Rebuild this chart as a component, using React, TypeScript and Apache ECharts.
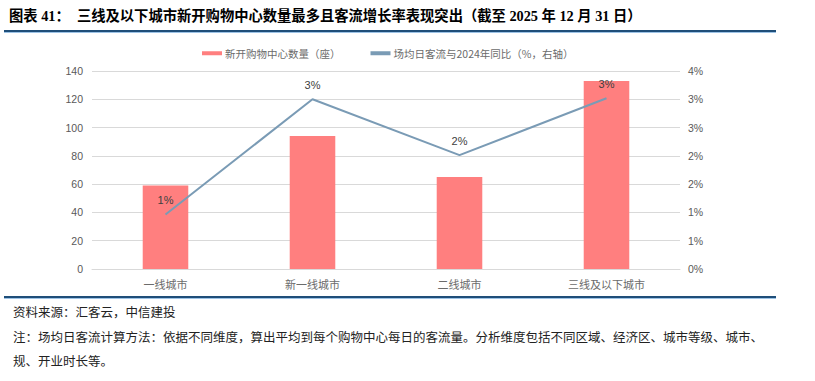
import React, { useEffect, useRef } from "react";
import * as echarts from "echarts";

const categories = ["一线城市", "新一线城市", "二线城市", "三线及以下城市"];
const newMalls = [59, 94, 65, 133];
const flowGrowthPct = [1.1, 3.43, 2.3, 3.45];
const barName = "新开购物中心数量（座）";
const lineName = "场均日客流与2024年同比（%，右轴）";
const titleText = "图表 41：  三线及以下城市新开购物中心数量最多且客流增长率表现突出（截至 2025 年 12 月 31 日）";
const sourceText = "资料来源：汇客云，中信建投";
const noteLine1 = "注：场均日客流计算方法：依据不同维度，算出平均到每个购物中心每日的客流量。分析维度包括不同区域、经济区、城市等级、城市、";
const noteLine2 = "规、开业时长等。";

const CJK = "'Noto Sans CJK SC', sans-serif";
const ARIAL = "'Liberation Sans', Arial, sans-serif";

export default function App() {
  const ref = useRef<HTMLDivElement>(null);
  useEffect(() => {
    if (!ref.current) return;
    const chart = echarts.init(ref.current, null, { renderer: "svg" });
    chart.setOption({
      animation: false,
      backgroundColor: "#ffffff",
      legend: {
        left: 197,
        top: 43,
        itemWidth: 20,
        itemHeight: 4,
        itemGap: 30,
        icon: "rect",
        textStyle: { fontFamily: CJK, fontSize: 10.5, color: "#6b6b6b", padding: [0, 0, 0, -2] },
        data: [{ name: barName }, { name: lineName }],
      },
      grid: { left: 92, right: 135, top: 71, bottom: 112, containLabel: false },
      xAxis: {
        type: "category",
        data: categories,
        axisLine: { lineStyle: { color: "#d9d9d9" } },
        axisTick: { show: false },
        axisLabel: { fontFamily: CJK, fontSize: 11, color: "#6b6b6b", margin: 9 },
      },
      yAxis: [
        {
          type: "value",
          min: 0,
          max: 140,
          interval: 20,
          axisLine: { show: false },
          axisTick: { show: false },
          axisLabel: { fontFamily: ARIAL, fontSize: 10.5, color: "#595959", margin: 9 },
          splitLine: { lineStyle: { color: "#d9d9d9", width: 1 } },
        },
        {
          type: "value",
          min: 0,
          max: 4,
          interval: 4 / 7,
          axisLine: { show: false },
          axisTick: { show: false },
          splitLine: { show: false },
          axisLabel: {
            fontFamily: ARIAL,
            fontSize: 10.5,
            color: "#595959",
            margin: 8,
            formatter: (v: number) => Math.round(v) + "%",
          },
        },
      ],
      series: [
        {
          name: barName,
          type: "bar",
          data: newMalls,
          barWidth: "31%",
          itemStyle: { color: "#ff7f7f" },
        },
        {
          name: lineName,
          type: "line",
          yAxisIndex: 1,
          data: flowGrowthPct,
          symbol: "circle",
          symbolSize: 0.01,
          showSymbol: true,
          lineStyle: { color: "#7a9bb5", width: 2 },
          itemStyle: { color: "#7a9bb5" },
          label: {
            show: true,
            position: "top",
            distance: 9,
            fontFamily: ARIAL,
            fontSize: 11,
            color: "#404040",
            formatter: (p: any) => Math.round(p.value) + "%",
          },
        },
      ],
      graphic: [
        {
          type: "text",
          left: 9,
          top: 9,
          style: {
            text: titleText,
            font: "bold 14.3px 'Liberation Serif', 'Noto Sans CJK SC', serif",
            fill: "#000000",
          },
        },
        { type: "rect", shape: { x: 4, y: 30, width: 772, height: 2 }, style: { fill: "#1f4e79" } },
        { type: "rect", shape: { x: 4, y: 32, width: 772, height: 1 }, style: { fill: "#9dc3e6" } },
        { type: "rect", shape: { x: 4, y: 296, width: 772, height: 2 }, style: { fill: "#1f4e79" } },
        { type: "rect", shape: { x: 4, y: 298, width: 772, height: 1 }, style: { fill: "#9dc3e6" } },
        {
          type: "text",
          left: 13,
          top: 305,
          style: { text: sourceText, font: "12.5px 'Noto Sans CJK SC', sans-serif", fill: "#222222" },
        },
        {
          type: "text",
          left: 13,
          top: 330,
          style: { text: noteLine1, font: "12.5px 'Noto Sans CJK SC', sans-serif", fill: "#222222" },
        },
        {
          type: "text",
          left: 13,
          top: 354,
          style: { text: noteLine2, font: "12.5px 'Noto Sans CJK SC', sans-serif", fill: "#222222" },
        },
      ],
    });
    return () => chart.dispose();
  }, []);
  return (
    <div
      ref={ref}
      style={{ position: "absolute", left: 0, top: 0, width: 815, height: 381 }}
    />
  );
}
